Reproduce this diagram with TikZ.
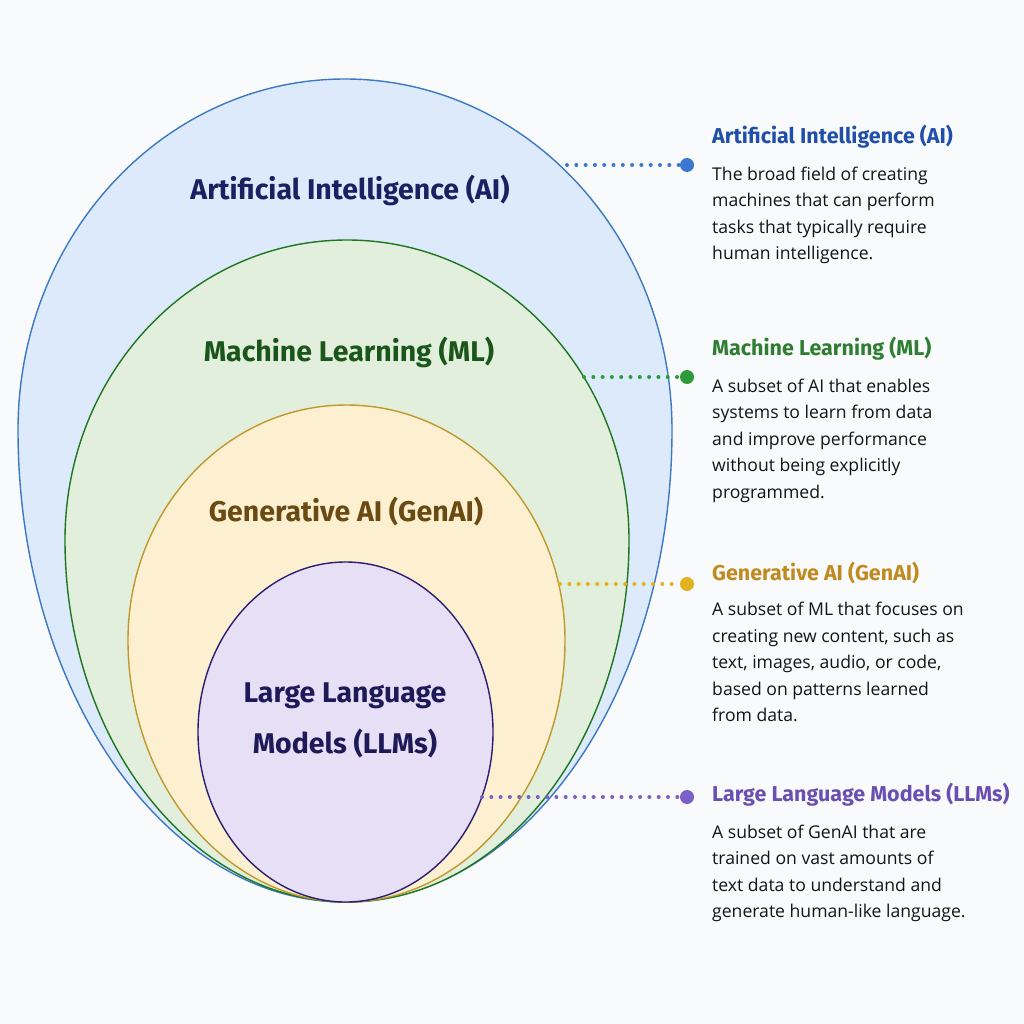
\documentclass[tikz,border=0pt]{standalone}
\usepackage{fontspec}
\setmainfont{Open Sans}
\newfontfamily\headfont{Fira Sans}
\usetikzlibrary{positioning}

\definecolor{aifill}{HTML}{DDEAFB}
\definecolor{aiedge}{HTML}{3B79C3}
\definecolor{aiink}{HTML}{1B2060}
\definecolor{aihead}{HTML}{1F4FA8}
\definecolor{aidot}{HTML}{3C78D0}
\definecolor{mlfill}{HTML}{E2EFDC}
\definecolor{mledge}{HTML}{1E771E}
\definecolor{mlink}{HTML}{1A561A}
\definecolor{mlhead}{HTML}{2E7D32}
\definecolor{mldot}{HTML}{2E9B3A}
\definecolor{genfill}{HTML}{FCF0D1}
\definecolor{genedge}{HTML}{C0982E}
\definecolor{genink}{HTML}{6A4A12}
\definecolor{genhead}{HTML}{C08A1E}
\definecolor{gendot}{HTML}{E2B21F}
\definecolor{llmfill}{HTML}{E6DFF5}
\definecolor{llmedge}{HTML}{2A1F70}
\definecolor{llmink}{HTML}{1E1A58}
\definecolor{llmhead}{HTML}{6A4FB2}
\definecolor{llmdot}{HTML}{7A60C8}
\definecolor{paper}{HTML}{F9FAFB}

% egg: centre x, widest y, x radius, upper y radius, lower y radius
\newcommand{\eggshape}[5]{({#1-#3},#2) .. controls ({#1-#3},{#2-0.5523*#4}) and ({#1-0.5523*#3},{#2-#4}) .. (#1,{#2-#4}) .. controls ({#1+0.5523*#3},{#2-#4}) and ({#1+#3},{#2-0.5523*#4}) .. ({#1+#3},#2) .. controls ({#1+#3},{#2+0.5523*#5}) and ({#1+0.5523*#3},{#2+#5}) .. (#1,{#2+#5}) .. controls ({#1-0.5523*#3},{#2+#5}) and ({#1-#3},{#2+0.5523*#5}) .. ({#1-#3},#2) -- cycle}

\begin{document}
\begin{tikzpicture}[x=1pt,y=-1pt,line cap=round,line join=round,
  ring/.style={line width=1.4pt},
  inlabel/.style={font=\headfont\bfseries\fontsize{28.5}{51}\selectfont,align=center,inner sep=0pt},
  sidetitle/.style={font=\headfont\bfseries\fontsize{21.5}{24}\selectfont,anchor=west,inner sep=0pt},
  sidetext/.style={font=\fontsize{17.6}{26.5}\selectfont,align=left,inner sep=0pt,text=black!92},
  leader/.style={line width=4pt,dash pattern=on 0pt off 9.3pt},
  bullet/.style={circle,inner sep=0pt,minimum size=14pt}]
\useasboundingbox[fill=paper] (0,0) rectangle (1024,1024);

% nested sets
\draw[ring,draw=aiedge,fill=aifill] \eggshape{345}{430}{327}{351}{472};
\draw[ring,draw=mledge,fill=mlfill] \eggshape{347}{540}{282}{300}{362};
\draw[ring,draw=genedge,fill=genfill] \eggshape{346.5}{640}{218.5}{235}{262};
\draw[ring,draw=llmedge,fill=llmfill] (345.5,732) ellipse [x radius=147.5,y radius=170];

\node[inlabel,text=aiink] (ailabel) at (350,190) {Artificial Intelligence (AI)};
\node[inlabel,text=mlink] (mllabel) at (349,352) {Machine Learning (ML)};
\node[inlabel,text=genink] (genlabel) at (346,512) {Generative AI (GenAI)};
\node[inlabel,text=llmink] (llmlabel) at (345,720) {Large Language\\Models (LLMs)};

% leader ends on the rings
\coordinate (aiedgept) at (567,165);
\coordinate (mledgept) at (584,377);
\coordinate (genedgept) at (560,584);
\coordinate (llmedgept) at (482,797);

\node[bullet,fill=aidot] (aibullet) at (687,165) {};
\node[bullet,fill=mldot] (mlbullet) at (687,377) {};
\node[bullet,fill=gendot] (genbullet) at (687,584) {};
\node[bullet,fill=llmdot] (llmbullet) at (687,797) {};

\draw[leader,aidot] (aiedgept) -- (aibullet);
\draw[leader,mldot] (mledgept) -- (mlbullet);
\draw[leader,gendot] (genedgept) -- (genbullet);
\draw[leader,llmdot] (llmedgept) -- (llmbullet);

% side notes
\node[sidetitle,text=aihead] (aititle) at (712,137) {Artificial Intelligence (AI)};
\node[sidetext,below=18pt of aititle.south west,anchor=north west] (aitext)
  {The broad field of creating\\machines that can perform\\tasks that typically require\\human intelligence.};
\node[sidetitle,text=mlhead] (mltitle) at (712,349) {Machine Learning (ML)};
\node[sidetext,below=18pt of mltitle.south west,anchor=north west] (mltext)
  {A subset of AI that enables\\systems to learn from data\\and improve performance\\without being explicitly\\programmed.};
\node[sidetitle,text=genhead] (gentitle) at (712,573) {Generative AI (GenAI)};
\node[sidetext,below=18pt of gentitle.south west,anchor=north west] (gentext)
  {A subset of ML that focuses on\\creating new content, such as\\text, images, audio, or code,\\based on patterns learned\\from data.};
\node[sidetitle,text=llmhead] (llmtitle) at (712,795) {Large Language Models (LLMs)};
\node[sidetext,below=18pt of llmtitle.south west,anchor=north west] (llmtext)
  {A subset of GenAI that are\\trained on vast amounts of\\text data to understand and\\generate human-like language.};
\end{tikzpicture}
\end{document}
